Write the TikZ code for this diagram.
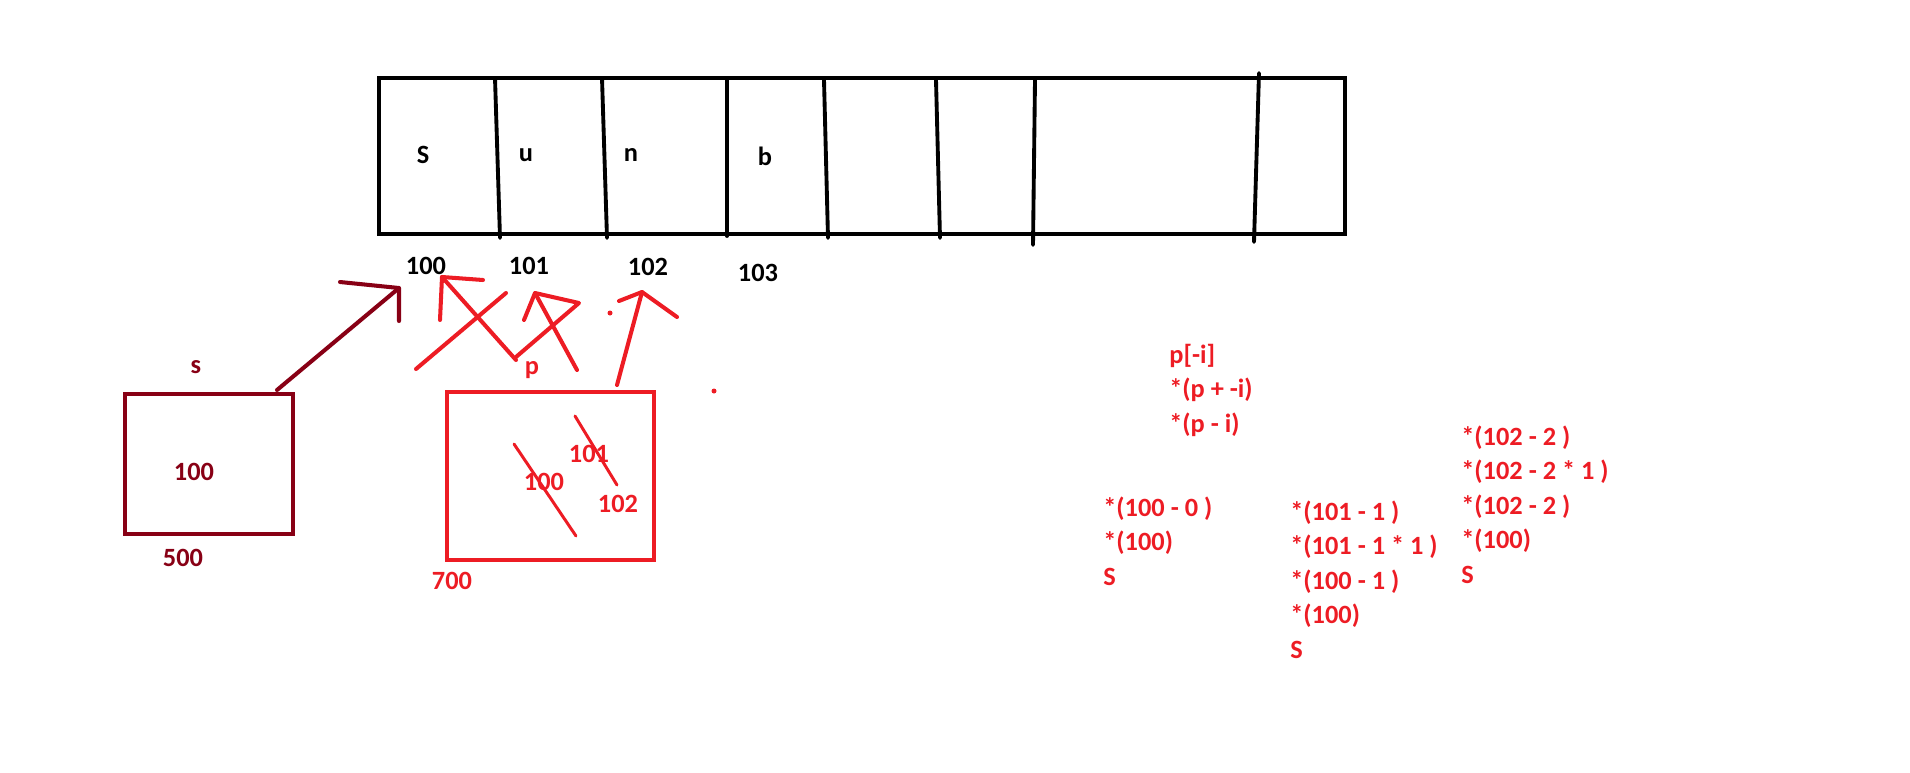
\documentclass[tikz,border=0pt]{standalone}
\usepackage{fontspec}
\setmainfont{Carlito}
\usepackage{xcolor}
\usetikzlibrary{positioning}
\definecolor{darkred}{RGB}{136,0,21}
\definecolor{paintred}{RGB}{237,28,36}

\begin{document}
\begin{tikzpicture}[
      x=0.02cm, y=-0.02cm,
      font=\fontsize{15}{19.6}\selectfont\bfseries,
      box/.style={draw, line width=2.4pt, inner sep=0pt},
      cellline/.style={line width=2.2pt, line cap=round},
      inkdark/.style={darkred, line width=2.3pt, line cap=round, line join=round},
      inkred/.style={paintred, line width=2.3pt, line cap=round, line join=round},
      slash/.style={paintred, line width=1.7pt, line cap=round},
      lbl/.style={inner sep=0pt},
      expr/.style={paintred, inner sep=0pt, anchor=base west},
    ]
    \useasboundingbox (0,0) rectangle (1910,772);

    % --- the char array -----------------------------------------------------
    \node[box, minimum width=19.32cm, minimum height=3.12cm] (strbox)
          at (862,156) {};
    \draw[cellline] (495,78)  -- (500,238);
    \draw[cellline] (602,78)  -- (607,238);
    \draw[cellline] (727,78)  -- (727,236);
    \draw[cellline] (824,80)  -- (828,238);
    \draw[cellline] (936,80)  -- (940,238);
    \draw[cellline] (1035,80) -- (1033,245);
    \draw[cellline] (1259,73) -- (1254,242);

    \node[lbl] (ch0) at (423,155) {S};
    \node[lbl] (ch1) at (526,155) {u};
    \node[lbl] (ch2) at (631,155) {n};
    \node[lbl] (ch3) at (765,156) {b};

    \node[lbl] (ad0) at (426,266) {100};
    \node[lbl] (ad1) at (529,266) {101};
    \node[lbl] (ad2) at (648,267) {102};
    \node[lbl] (ad3) at (758,273) {103};

    % --- variable s ----------------------------------------------------------
    \node[box, darkred, minimum width=3.36cm, minimum height=2.8cm] (sbox)
          at (209,464) {};
    \node[lbl, darkred] (sname) at (196,367) {s};
    \node[lbl, darkred] (sval)  at (194,472) {100};
    \node[lbl, darkred] (sadr)  at (183,558) {500};

    \coordinate (stail) at (277,390);
    \coordinate (stip)  at (399,288);
    \draw[inkdark] (stail) -- (stip);
    \draw[inkdark] (340,282) -- (stip) -- (399,321);

    % --- variable p ----------------------------------------------------------
    \node[box, paintred, minimum width=4.14cm, minimum height=3.36cm] (pbox)
          at (550.5,476) {};
    \node[lbl, paintred] (pname) at (532,370) {p};
    \node[lbl, paintred] (padr)  at (452,581) {700};
    \node[lbl, paintred] (pv0)   at (544,482) {100};
    \node[lbl, paintred] (pv1)   at (589,454) {101};
    \node[lbl, paintred] (pv2)   at (618,504) {102};
    \draw[slash] (514,444) -- (576,536);
    \draw[slash] (575,416) -- (617,485);

    % --- p moving along the array --------------------------------------------
    \coordinate (tipA) at (442,277);
    \coordinate (tipB) at (535,293);
    \coordinate (tipC) at (642,292);
    \draw[inkred] (416,369) -- (506,293);
    \draw[inkred] (516,360) -- (tipA);
    \draw[inkred] (440,320) -- (tipA) -- (483,280);
    \draw[inkred] (577,370) -- (tipB);
    \draw[inkred] (524,320) -- (tipB) -- (579,303) -- (516,357);
    \draw[inkred] (617,385) -- (tipC);
    \draw[inkred] (619,301) -- (tipC) -- (677,317);
    \fill[paintred] (610,313) circle (2.5);
    \fill[paintred] (714,391) circle (2.5);

    % --- the working on the right --------------------------------------------
    \foreach \t [count=\i] in {{p[-i]}, {*(p + -i)}, {*(p - i)}}
      \node[expr] (top\i) at (1169,{363+34.5*(\i-1)}) {\t};
    \foreach \t [count=\i] in {{*(100 - 0 )}, {*(100)}, S}
      \node[expr] (colA\i) at (1103,{516+34.5*(\i-1)}) {\t};
    \foreach \t [count=\i] in {{*(101 - 1 )}, {*(101 - 1 * 1 )},
                               {*(100 - 1 )}, {*(100)}, S}
      \node[expr] (colB\i) at (1290,{520+34.5*(\i-1)}) {\t};
    \foreach \t [count=\i] in {{*(102 - 2 )}, {*(102 - 2 * 1 )},
                               {*(102 - 2 )}, {*(100)}, S}
      \node[expr] (colC\i) at (1461,{445+34.5*(\i-1)}) {\t};
  \end{tikzpicture}
\end{document}
